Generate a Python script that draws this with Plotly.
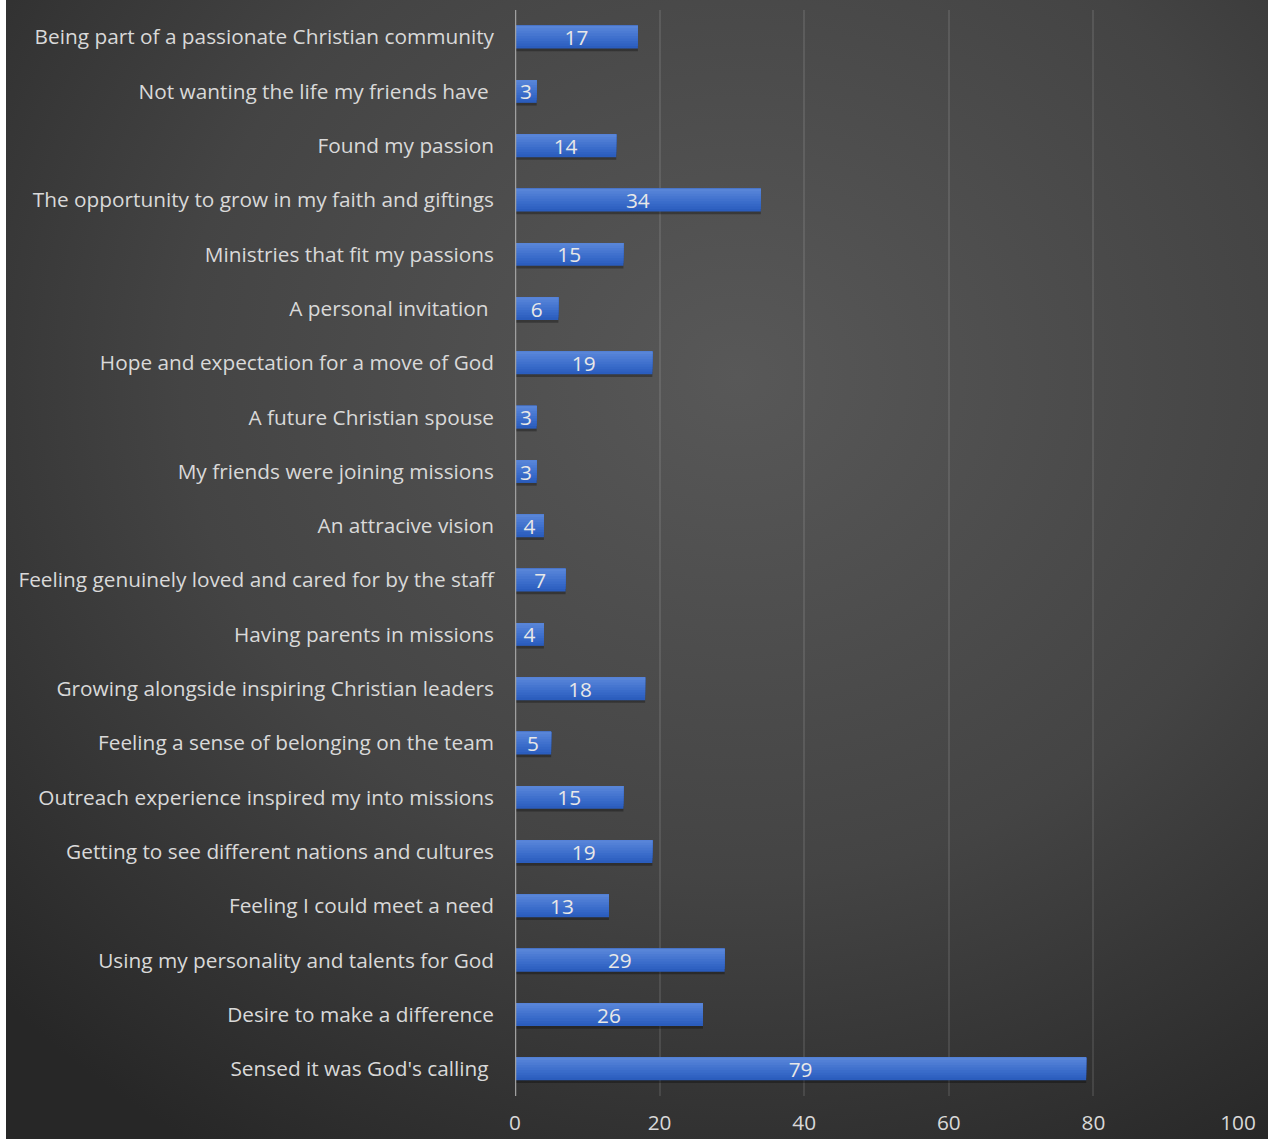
import plotly.graph_objects as go
import urllib.parse

categories = [
    "Being part of a passionate Christian community",
    "Not wanting the life my friends have\u00a0",
    "Found my passion",
    "The opportunity to grow in my faith and giftings",
    "Ministries that fit my passions",
    "A personal invitation\u00a0",
    "Hope and expectation for a move of God",
    "A future Christian spouse",
    "My friends were joining missions",
    "An attracive vision",
    "Feeling genuinely loved and cared for by the staff",
    "Having parents in missions",
    "Growing alongside inspiring Christian leaders",
    "Feeling a sense of belonging on the team",
    "Outreach experience inspired my into missions",
    "Getting to see different nations and cultures",
    "Feeling I could meet a need",
    "Using my personality and talents for God",
    "Desire to make a difference",
    "Sensed it was God's calling\u00a0",
]
values = [17, 3, 14, 34, 15, 6, 19, 3, 3, 4, 7, 4, 18, 5, 15, 19, 13, 29, 26, 79]
x_ticks = [0, 20, 40, 60, 80, 100]

FONT = "'Open Sans', 'Noto Sans', sans-serif"
FS = 20.8
W, H = 1268, 1139
L, R, T, B = 515, 30, 10, 43
pw, ph = W - L - R, H - T - B

svg = (
    '<svg xmlns="http://www.w3.org/2000/svg" width="1262" height="1139">'
    '<defs><radialGradient id="g" cx="0.58" cy="0.33" r="0.8" fx="0.58" fy="0.33">'
    '<stop offset="0" stop-color="#585858"/>'
    '<stop offset="0.55" stop-color="#444444"/>'
    '<stop offset="1" stop-color="#272727"/>'
    '</radialGradient></defs>'
    '<rect width="1262" height="1139" fill="url(#g)"/></svg>'
)
bg_src = "data:image/svg+xml;charset=utf-8," + urllib.parse.quote(svg)

fig = go.Figure()

BW = 0.42
# soft shadow
fig.add_trace(go.Bar(
    y=categories, x=values, orientation="h",
    marker=dict(color="rgba(0,0,0,0.30)", line=dict(width=0)),
    width=BW + 0.03, offset=-BW / 2 + 0.02, hoverinfo="skip", showlegend=False,
))
# gradient layers: darker at bottom, lighter toward top
grad = ["#2b5dbd", "#3062c2", "#3567c6", "#3a6cca", "#4071cd",
        "#4676d0", "#4c7bd3", "#5280d6", "#5885d8"]
n = len(grad)
for i, col in enumerate(grad):
    frac = 1 - i / n
    fig.add_trace(go.Bar(
        y=categories, x=values, orientation="h",
        marker=dict(color=col, line=dict(width=0)),
        width=BW * frac, offset=-BW / 2, hoverinfo="skip", showlegend=False,
    ))
# labels
fig.add_trace(go.Bar(
    y=categories, x=values, orientation="h",
    marker=dict(color="rgba(0,0,0,0)", line=dict(width=0)),
    width=BW, offset=-BW / 2,
    text=[str(v) for v in values], textposition="inside", textangle=0,
    insidetextanchor="middle", constraintext="none",
    textfont=dict(family=FONT, size=FS, color="#e8e8e8"),
    hoverinfo="skip", showlegend=False,
))

fig.update_layout(
    width=W, height=H,
    margin=dict(l=L, r=R, t=T, b=B, autoexpand=False),
    paper_bgcolor="white",
    plot_bgcolor="rgba(0,0,0,0)",
    barmode="overlay",
    font=dict(family=FONT, size=FS, color="#d9d9d9"),
    images=[dict(
        source=bg_src, xref="paper", yref="paper",
        x=(6 - L) / pw, y=(H - B) / ph,
        sizex=(W - 6) / pw, sizey=H / ph,
        xanchor="left", yanchor="top", sizing="stretch", layer="below",
    )],
    xaxis=dict(
        range=[0, 100], tickvals=x_ticks, ticktext=[str(t) for t in x_ticks],
        showgrid=True, gridcolor="rgba(255,255,255,0.10)", gridwidth=2,
        zeroline=False, showline=False, ticks="",
        tickfont=dict(family=FONT, size=FS, color="#d9d9d9"),
        ticklabelstandoff=12, automargin=False,
    ),
    yaxis=dict(
        autorange="reversed", showgrid=False, zeroline=False,
        showline=False, ticks="",
        tickfont=dict(family=FONT, size=FS, color="#d9d9d9"),
        ticklabelstandoff=20, automargin=False,
    ),
    shapes=[dict(
        type="line", xref="x", yref="paper", x0=0, x1=0, y0=0.0, y1=1.0,
        line=dict(color="#a0a0a0", width=2.5), layer="above",
    )],
)

fig.write_html("out.html")
